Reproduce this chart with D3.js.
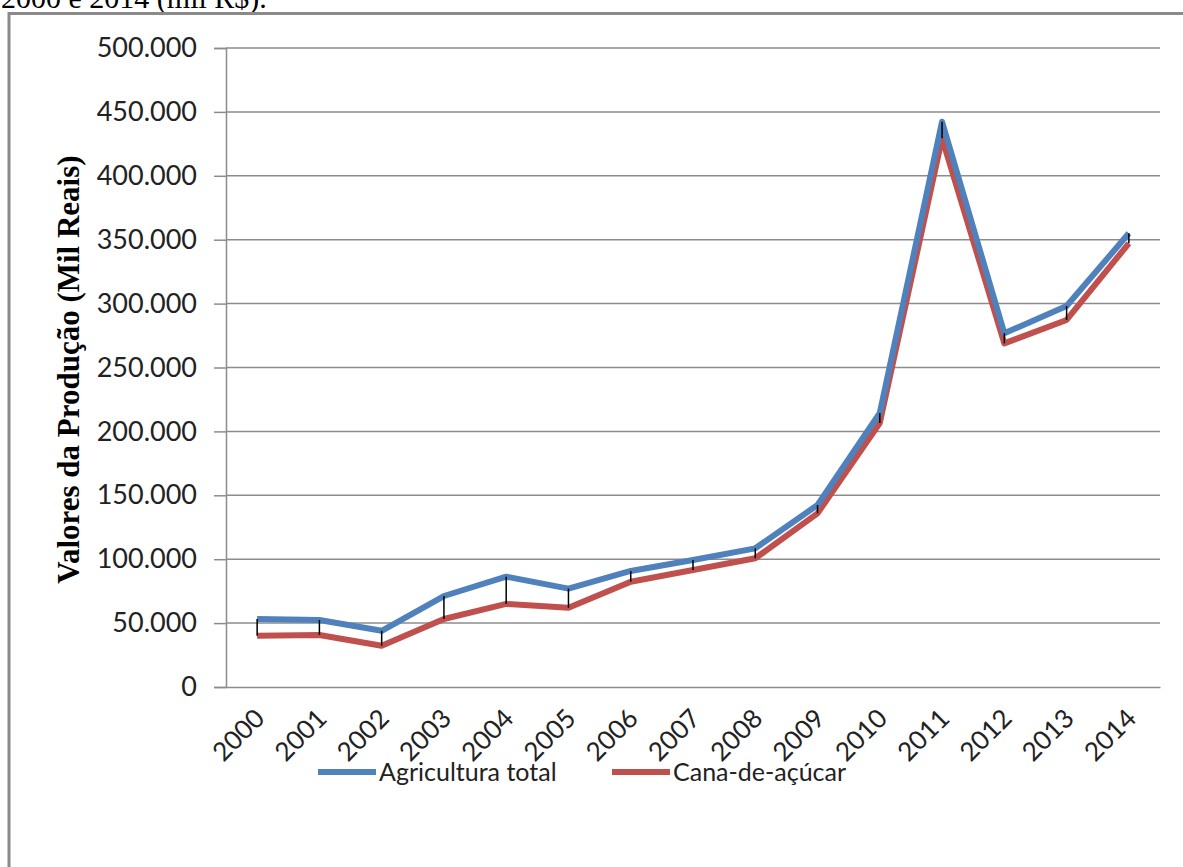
<!DOCTYPE html>
<html>
<head>
<meta charset="utf-8">
<script src="https://cdn.jsdelivr.net/npm/d3@7"></script>
<style>
  html, body { margin: 0; padding: 0; background: #fff; overflow: hidden; }
  svg { display: block; }
</style>
</head>
<body>
<svg id="chart" width="1183" height="867"></svg>
<script>
// Valor da produção agrícola, 2000–2014 (mil R$)
const anos = ["2000","2001","2002","2003","2004","2005","2006","2007","2008","2009","2010","2011","2012","2013","2014"];
const agriculturaTotal = [53200, 52400, 44000, 71200, 86300, 77000, 90800, 99400, 108500, 142400, 214400, 442300, 276800, 298100, 355000];
const canaDeAcucar   = [40100, 40700, 32300, 53200, 65000, 62000, 82400, 91500, 100700, 135900, 206600, 429300, 268900, 287200, 347200];
const yTicks = [0, 50000, 100000, 150000, 200000, 250000, 300000, 350000, 400000, 450000, 500000];
const seriesNames = ["Agricultura total", "Cana-de-açúcar"];

const colors = { agr: "#4F81BD", cana: "#C0504D" };
const tickFont = "Lato, 'Open Sans', sans-serif";
const ptBR = d3.formatLocale({ decimal: ",", thousands: ".", grouping: [3], currency: ["R$", ""] });
const fmt = ptBR.format(",.0f");

const svg = d3.select("#chart");

// caption line above the chart box (runs off the top edge)
svg.append("text")
  .attr("x", 1).attr("y", 8)
  .attr("font-family", "'Liberation Serif', 'Times New Roman', serif")
  .attr("font-size", 30)
  .attr("fill", "#000")
  .text("2000 e 2014 (mil R$).");

// chart box border
svg.append("rect")
  .attr("x", 9).attr("y", 13.5)
  .attr("width", 1200).attr("height", 900)
  .attr("fill", "#fff")
  .attr("stroke", "#8a8a8a").attr("stroke-width", 3);

const plot = { left: 226, right: 1160, top: 48, bottom: 687 };

const x = d3.scaleBand().domain(anos).range([plot.left, plot.right]).padding(0);
const y = d3.scaleLinear().domain([0, 500000]).range([plot.bottom, plot.top]);
const cx = d => x(d) + x.bandwidth() / 2;

// horizontal gridlines
svg.append("g")
  .selectAll("line")
  .data(yTicks.filter(t => t > 0))
  .join("line")
  .attr("x1", plot.left).attr("x2", plot.right)
  .attr("y1", d => y(d)).attr("y2", d => y(d))
  .attr("stroke", "#8c8c8c").attr("stroke-width", 1.5);

// y axis
const yAxis = svg.append("g")
  .attr("transform", `translate(${plot.left},0)`)
  .call(d3.axisLeft(y).tickValues(yTicks).tickFormat(fmt).tickSize(12).tickPadding(17));
yAxis.select(".domain").attr("stroke", "#8c8c8c").attr("stroke-width", 1.5);
yAxis.selectAll(".tick line").attr("stroke", "#8c8c8c").attr("stroke-width", 1.5);
yAxis.selectAll(".tick text")
  .attr("font-family", tickFont).attr("font-size", 27).attr("fill", "#222");

// x axis
const xAxis = svg.append("g")
  .attr("transform", `translate(0,${plot.bottom})`)
  .call(d3.axisBottom(x).tickSize(0).tickPadding(0));
xAxis.select(".domain").attr("stroke", "#8c8c8c").attr("stroke-width", 1.5);
xAxis.selectAll(".tick text")
  .attr("font-family", tickFont).attr("font-size", 26).attr("fill", "#222")
  .attr("text-anchor", "end")
  .attr("dy", 0)
  .attr("transform", "translate(9,33) rotate(-45)");

// y axis title
svg.append("text")
  .attr("transform", `translate(79,${(plot.top + plot.bottom) / 2 + 2}) rotate(-90)`)
  .attr("text-anchor", "middle")
  .attr("font-family", "'Liberation Serif', 'Times New Roman', serif")
  .attr("font-weight", "bold")
  .attr("font-size", 31)
  .attr("fill", "#000")
  .text("Valores da Produção (Mil Reais)");

// series lines
const line = d3.line().x((d, i) => cx(anos[i])).y(d => y(d));
svg.append("path").datum(canaDeAcucar)
  .attr("d", line).attr("fill", "none")
  .attr("stroke", colors.cana).attr("stroke-width", 6).attr("stroke-linejoin", "round");
svg.append("path").datum(agriculturaTotal)
  .attr("d", line).attr("fill", "none")
  .attr("stroke", colors.agr).attr("stroke-width", 6).attr("stroke-linejoin", "round");

// high-low lines
svg.append("g")
  .selectAll("line")
  .data(anos)
  .join("line")
  .attr("x1", d => cx(d)).attr("x2", d => cx(d))
  .attr("y1", (d, i) => y(agriculturaTotal[i])).attr("y2", (d, i) => y(canaDeAcucar[i]))
  .attr("stroke", "#000").attr("stroke-width", 1.5);

// legend
const legendItems = [
  { name: seriesNames[0], color: colors.agr, x: 318 },
  { name: seriesNames[1], color: colors.cana, x: 612 }
];
const lg = svg.append("g").attr("transform", "translate(0,772)");
legendItems.forEach(it => {
  lg.append("line").attr("x1", it.x).attr("x2", it.x + 58).attr("y1", 0).attr("y2", 0)
    .attr("stroke", it.color).attr("stroke-width", 6);
  lg.append("text").attr("x", it.x + 61).attr("y", 0).attr("dy", "0.35em")
    .attr("font-family", tickFont).attr("font-size", 25).attr("fill", "#222")
    .text(it.name);
});
</script>
</body>
</html>
